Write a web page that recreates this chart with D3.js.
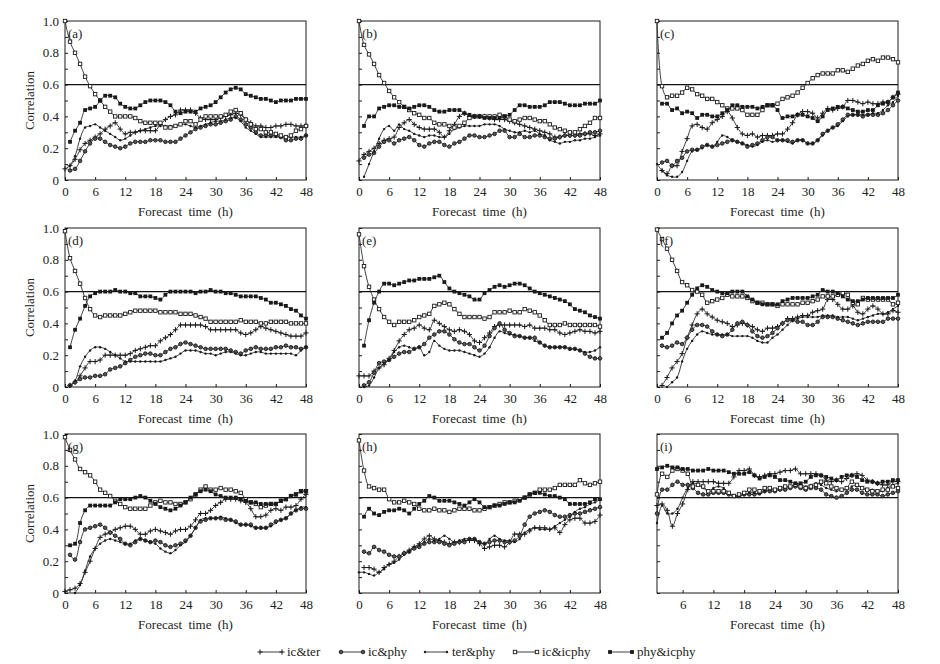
<!DOCTYPE html>
<html>
<head>
<meta charset="utf-8">
<script src="https://cdn.jsdelivr.net/npm/d3@7"></script>
<style>
  body { margin: 0; background: #fff; }
  text { font-family: "Liberation Serif", "DejaVu Serif", serif; fill: #222; }
</style>
</head>
<body>
<div id="chart"></div>
<script>
// ---- data: correlation per forecast hour (index = hour 0..48, null = no value)
const seriesNames = ["ic&ter", "ic&phy", "ter&phy", "ic&icphy", "phy&icphy"]
const panelLabels = ["(a)", "(b)", "(c)", "(d)", "(e)", "(f)", "(g)", "(h)", "(i)"]
const xTicks = [0, 6, 12, 18, 24, 30, 36, 42, 48]
const yTickLabels = ["0", "0.2", "0.4", "0.6", "0.8", "1.0"]
const refLine = 0.6

// (a)
const icTer_a = [0.07,0.09,0.13,0.19,0.23,0.25,0.27,0.29,0.32,0.34, 0.36,0.32,0.29,0.30,0.30,0.31,0.31,0.31,0.31,0.35, 0.38,0.40,0.41,0.44,0.44,0.44,0.42,0.39,0.38,0.38, 0.38,0.39,0.40,0.41,0.42,0.41,0.38,0.36,0.34,0.34, 0.33,0.33,0.34,0.34,0.35,0.35,0.34,0.34,0.34]
const icPhy_a = [null,0.06,0.07,0.12,0.18,0.23,0.26,0.26,0.24,0.22, 0.21,0.20,0.21,0.23,0.24,0.24,0.24,0.25,0.25,0.25, 0.24,0.24,0.24,0.26,0.28,0.30,0.32,0.33,0.34,0.35, 0.35,0.36,0.37,0.38,0.40,0.38,0.35,0.33,0.30,0.28, 0.28,0.28,0.28,0.27,0.25,0.25,0.26,0.26,0.28]
const terPhy_a = [null,0.09,0.15,0.26,0.33,0.34,0.35,0.33,0.31,0.29, 0.27,0.25,0.26,0.28,0.30,0.31,0.32,0.33,0.34,0.34, 0.34,0.34,0.34,0.35,0.35,0.34,0.33,0.34,0.35,0.36, 0.37,0.37,0.38,0.39,0.39,0.37,0.33,0.31,0.29,0.27, 0.27,0.27,0.27,0.27,0.27,0.27,0.27,0.27,0.28]
const icIcphy_a = [1.00,0.87,0.80,0.73,0.65,0.59,0.54,0.50,0.46,0.43, 0.40,0.40,0.40,0.40,0.39,0.37,0.36,0.36,0.36,0.36, 0.33,0.33,0.34,0.35,0.37,0.37,0.35,0.38,0.40,0.40, 0.40,0.40,0.41,0.43,0.44,0.42,0.38,0.35,0.32,0.32, 0.30,0.30,0.29,0.28,0.27,0.28,0.31,0.32,0.34]
const phyIcphy_a = [null,0.24,0.31,0.36,0.44,0.45,0.46,0.50,0.53,0.53, 0.52,0.48,0.46,0.45,0.45,0.47,0.49,0.50,0.50,0.50, 0.49,0.47,0.43,0.42,0.43,0.43,0.43,0.45,0.46,0.47, 0.49,0.52,0.55,0.57,0.58,0.57,0.54,0.53,0.52,0.51, 0.51,0.50,0.49,0.50,0.50,0.50,0.51,0.51,0.51]

// (b)
const icTer_b = [0.12,0.16,0.18,0.20,0.23,0.25,0.26,0.27,0.33,0.36, 0.38,0.35,0.33,0.32,0.32,0.32,0.30,0.27,0.31,0.35, 0.40,0.42,0.40,0.40,0.40,0.40,0.39,0.38,0.38,0.38, 0.37,0.36,0.35,0.34,0.33,0.32,0.31,0.30,0.29,0.27, 0.27,0.28,0.28,0.28,0.29,0.29,0.29,0.28,0.29]
const icPhy_b = [null,0.14,0.16,0.17,0.21,0.24,0.25,0.23,0.25,0.26, 0.27,0.25,0.22,0.21,0.23,0.24,0.24,0.22,0.21,0.23, 0.24,0.26,0.28,0.28,0.27,0.27,0.28,0.29,0.31,0.31, 0.27,0.27,0.29,0.27,0.27,0.28,0.28,0.27,0.26,0.26, 0.27,0.28,0.28,0.28,0.28,0.29,0.30,0.30,0.31]
const terPhy_b = [null,0.02,0.10,0.18,0.26,0.32,0.34,0.31,0.35,0.32, 0.31,0.29,0.28,0.27,0.28,0.28,0.27,0.27,0.29,0.32, 0.33,0.34,0.34,0.34,0.34,0.35,0.35,0.35,0.34,0.32, 0.31,0.30,0.30,0.31,0.30,0.31,0.29,0.28,0.25,0.24, 0.23,0.24,0.24,0.25,0.25,0.26,0.26,0.27,0.28]
const icIcphy_b = [1.00,0.85,0.79,0.73,0.66,0.61,0.56,0.52,0.49,0.46, 0.44,0.42,0.41,0.39,0.39,0.36,0.35,0.35,0.34,0.33, 0.34,0.36,0.39,0.40,0.40,0.40,0.40,0.40,0.41,0.40, 0.38,0.37,0.38,0.39,0.39,0.38,0.37,0.37,0.35,0.33, 0.32,0.31,0.30,0.30,0.32,0.34,0.36,0.39,0.39]
const phyIcphy_b = [null,0.34,0.40,0.40,0.45,0.46,0.47,0.47,0.46,0.46, 0.45,0.46,0.47,0.47,0.46,0.44,0.43,0.43,0.44,0.44, 0.44,0.42,0.41,0.40,0.40,0.39,0.39,0.39,0.39,0.40, 0.41,0.44,0.47,0.47,0.46,0.46,0.46,0.47,0.49,0.49, 0.49,0.48,0.47,0.47,0.47,0.48,0.48,0.48,0.50]

// (c)
const icTer_c = [null,0.06,0.04,0.09,0.09,0.18,0.26,0.34,0.35,0.33, 0.32,0.36,0.38,0.40,0.43,0.39,0.33,0.29,0.28,0.29, 0.27,0.28,0.28,0.28,0.29,0.29,0.32,0.36,0.41,0.43, 0.43,0.42,0.39,0.42,0.45,0.44,0.45,0.46,0.50,0.50, 0.49,0.48,0.49,0.48,0.48,0.49,0.49,0.52,0.54]
const icPhy_c = [null,0.11,0.12,0.09,0.12,0.14,0.18,0.19,0.19,0.21, 0.22,0.21,0.22,0.23,0.24,0.25,0.24,0.23,0.21,0.22, 0.23,0.25,0.27,0.27,0.25,0.25,0.25,0.24,0.25,0.25, 0.23,0.23,0.25,0.29,0.31,0.33,0.35,0.38,0.41,0.41, 0.41,0.40,0.41,0.41,0.41,0.42,0.44,0.47,0.50]
const terPhy_c = [0.10,0.06,0.03,0.02,0.02,0.05,0.12,0.18,0.19,0.20, 0.22,0.21,0.24,0.28,0.27,0.25,0.24,0.23,0.22,0.21, 0.22,0.24,0.25,0.24,0.25,0.25,0.24,0.23,0.25,0.25, 0.23,0.23,0.25,0.28,0.31,0.33,0.34,0.37,0.40,0.41, 0.41,0.41,0.41,0.42,0.42,0.44,0.47,0.49,0.53]
const icIcphy_c = [1.00,0.59,0.52,0.53,0.53,0.55,0.58,0.57,0.54,0.53, 0.51,0.51,0.49,0.47,0.45,0.45,0.45,0.44,0.41,0.41, 0.41,0.44,0.47,0.47,0.48,0.51,0.52,0.53,0.55,0.58, 0.61,0.64,0.66,0.67,0.67,0.67,0.69,0.69,0.68,0.70, 0.72,0.73,0.75,0.76,0.75,0.77,0.77,0.76,0.74]
const phyIcphy_c = [null,0.48,0.48,0.44,0.45,0.42,0.43,0.42,0.39,0.41, 0.41,0.40,0.40,0.42,0.44,0.47,0.47,0.46,0.46,0.46, 0.45,0.46,0.47,0.47,0.44,0.39,0.40,0.40,0.41,0.41, 0.40,0.39,0.37,0.40,0.44,0.45,0.46,0.46,0.45,0.44, 0.43,0.43,0.44,0.44,0.47,0.48,0.49,0.52,0.55]

// (d)
const icTer_d = [null,0.01,0.03,0.07,0.12,0.16,0.16,0.17,0.20,0.20, 0.20,0.20,0.20,0.21,0.23,0.24,0.25,0.26,0.26,0.29, 0.31,0.33,0.36,0.39,0.39,0.39,0.39,0.39,0.38,0.36, 0.36,0.36,0.36,0.36,0.36,0.34,0.33,0.34,0.36,0.38, 0.37,0.36,0.35,0.34,0.33,0.32,0.32,0.32,0.34]
const icPhy_d = [null,0.01,0.03,0.05,0.06,0.06,0.07,0.07,0.08,0.11, 0.12,0.13,0.15,0.17,0.19,0.20,0.21,0.21,0.20,0.20, 0.22,0.24,0.25,0.27,0.28,0.27,0.26,0.25,0.24,0.24, 0.24,0.24,0.24,0.23,0.22,0.21,0.23,0.24,0.25,0.24, 0.24,0.24,0.25,0.25,0.26,0.25,0.25,0.24,0.25]
const terPhy_d = [null,0.01,0.04,0.13,0.19,0.23,0.25,0.25,0.24,0.22, 0.20,0.18,0.16,0.16,0.16,0.16,0.16,0.16,0.16,0.16, 0.17,0.18,0.19,0.21,0.23,0.23,0.23,0.22,0.21,0.21, 0.20,0.21,0.22,0.22,0.21,0.20,0.20,0.21,0.22,0.22, 0.21,0.21,0.21,0.21,0.21,0.21,0.20,0.23,0.25]
const icIcphy_d = [0.98,0.81,0.73,0.65,0.56,0.49,0.45,0.44,0.45,0.45, 0.45,0.45,0.46,0.47,0.48,0.48,0.48,0.48,0.48,0.47, 0.47,0.47,0.47,0.46,0.46,0.46,0.45,0.44,0.43,0.41, 0.41,0.41,0.41,0.41,0.41,0.42,0.41,0.41,0.41,0.40, 0.40,0.41,0.41,0.41,0.41,0.40,0.40,0.40,0.40]
const phyIcphy_d = [null,0.25,0.36,0.43,0.51,0.57,0.59,0.60,0.60,0.60, 0.61,0.60,0.60,0.59,0.59,0.57,0.57,0.57,0.56,0.55, 0.58,0.60,0.60,0.60,0.60,0.60,0.59,0.60,0.60,0.61, 0.60,0.60,0.59,0.59,0.58,0.57,0.57,0.57,0.57,0.56, 0.55,0.53,0.53,0.52,0.51,0.49,0.48,0.45,0.43]

// (e)
const icTer_e = [0.07,0.07,0.07,0.10,0.12,0.14,0.18,0.23,0.29,0.33, 0.36,0.37,0.39,0.37,0.36,0.42,0.40,0.38,0.36,0.35, 0.36,0.35,0.33,0.29,0.28,0.31,0.34,0.38,0.39,0.39, 0.39,0.39,0.39,0.38,0.39,0.37,0.37,0.37,0.36,0.36, 0.34,0.33,0.34,0.35,0.36,0.35,0.35,0.34,0.35]
const icPhy_e = [null,0.01,0.03,0.09,0.15,0.16,0.17,0.19,0.21,0.22, 0.22,0.24,0.25,0.27,0.31,0.33,0.35,0.35,0.33,0.30, 0.28,0.27,0.27,0.25,0.23,0.26,0.32,0.37,0.40,0.36, 0.34,0.32,0.32,0.31,0.31,0.31,0.28,0.26,0.25,0.25, 0.25,0.25,0.24,0.24,0.23,0.21,0.19,0.18,0.18]
const terPhy_e = [null,0.00,0.01,0.06,0.12,0.15,0.17,0.22,0.25,0.26, 0.25,0.24,0.25,0.20,0.22,0.29,0.26,0.24,0.23,0.23, 0.23,0.22,0.21,0.20,0.19,0.21,0.25,0.31,0.35,0.34, 0.33,0.33,0.32,0.31,0.31,0.29,0.28,0.26,0.25,0.25, 0.25,0.25,0.24,0.24,0.23,0.22,0.22,0.23,0.25]
const icIcphy_e = [0.96,0.76,0.63,0.55,0.49,0.44,0.41,0.39,0.41,0.41, 0.41,0.42,0.44,0.45,0.46,0.51,0.52,0.53,0.52,0.49, 0.46,0.44,0.44,0.44,0.44,0.43,0.44,0.47,0.47,0.47, 0.48,0.47,0.47,0.49,0.48,0.47,0.45,0.42,0.39,0.39, 0.39,0.40,0.39,0.39,0.39,0.39,0.39,0.39,0.38]
const phyIcphy_e = [null,0.26,0.42,0.53,0.60,0.65,0.65,0.64,0.65,0.66, 0.67,0.67,0.68,0.68,0.68,0.69,0.70,0.66,0.62,0.60, 0.59,0.58,0.57,0.55,0.55,0.59,0.61,0.63,0.64,0.63, 0.64,0.65,0.65,0.64,0.62,0.60,0.59,0.58,0.57,0.56, 0.55,0.54,0.52,0.49,0.48,0.47,0.45,0.44,0.43]

// (f)
const icTer_f = [null,0.01,0.06,0.12,0.16,0.21,0.31,0.39,0.46,0.49, 0.46,0.44,0.42,0.41,0.40,0.38,0.39,0.40,0.39,0.38, 0.36,0.35,0.37,0.37,0.38,0.40,0.43,0.43,0.44,0.45, 0.45,0.47,0.48,0.49,0.55,0.55,0.52,0.49,0.49,0.51, 0.47,0.46,0.49,0.51,0.49,0.46,0.46,0.48,0.47]
const icPhy_f = [null,0.26,0.25,0.26,0.28,0.27,0.31,0.36,0.39,0.39, 0.38,0.35,0.33,0.32,0.33,0.36,0.40,0.41,0.39,0.35, 0.32,0.31,0.32,0.34,0.37,0.40,0.42,0.42,0.41,0.41, 0.39,0.39,0.41,0.44,0.44,0.44,0.43,0.42,0.41,0.40, 0.39,0.40,0.41,0.41,0.41,0.41,0.43,0.43,0.43]
const terPhy_f = [null,null,0.00,0.03,0.06,0.16,0.24,0.29,0.33,0.35, 0.34,0.33,0.33,0.33,0.33,0.32,0.32,0.32,0.32,0.31, 0.29,0.28,0.28,0.31,0.33,0.36,0.39,0.42,0.43,0.44, 0.44,0.44,0.44,0.45,0.45,0.45,0.44,0.44,0.44,0.43, 0.42,0.43,0.44,0.45,0.46,0.46,0.47,0.49,0.51]
const icIcphy_f = [0.99,0.93,0.87,0.80,0.73,0.66,0.64,0.61,0.60,0.58, 0.53,0.54,0.55,0.56,0.58,0.57,0.57,0.57,0.56,0.54, 0.53,0.53,0.52,0.52,0.51,0.52,0.52,0.52,0.52,0.53, 0.53,0.54,0.55,0.57,0.57,0.57,0.58,0.59,0.58,0.53, 0.52,0.56,0.55,0.55,0.55,0.55,0.55,0.52,0.53]
const phyIcphy_f = [null,0.31,0.34,0.40,0.45,0.48,0.53,0.58,0.62,0.64, 0.63,0.61,0.60,0.59,0.59,0.60,0.60,0.60,0.57,0.55, 0.53,0.52,0.52,0.52,0.52,0.54,0.55,0.56,0.56,0.56, 0.56,0.57,0.58,0.61,0.60,0.60,0.59,0.57,0.55,0.54, 0.54,0.55,0.56,0.56,0.56,0.56,0.56,0.56,0.58]

// (g)
const icTer_g = [0.01,0.02,0.03,0.06,0.13,0.20,0.28,0.35,0.37,0.38, 0.40,0.41,0.42,0.42,0.40,0.37,0.37,0.39,0.40,0.39, 0.38,0.37,0.39,0.40,0.40,0.42,0.46,0.50,0.50,0.52, 0.55,0.57,0.59,0.59,0.59,0.58,0.57,0.53,0.48,0.48, 0.49,0.52,0.53,0.52,0.54,0.54,0.55,0.59,0.62]
const icPhy_g = [null,0.24,0.21,0.32,0.40,0.41,0.42,0.43,0.41,0.38, 0.36,0.34,0.31,0.30,0.32,0.34,0.33,0.32,0.33,0.32, 0.30,0.29,0.30,0.31,0.33,0.36,0.41,0.45,0.46,0.47, 0.47,0.47,0.46,0.46,0.45,0.43,0.43,0.43,0.41,0.41, 0.41,0.43,0.45,0.46,0.47,0.50,0.52,0.53,0.53]
const terPhy_g = [null,null,0.00,0.05,0.14,0.23,0.28,0.31,0.33,0.34, 0.33,0.32,0.31,0.31,0.33,0.34,0.33,0.32,0.31,0.28, 0.26,0.25,0.27,0.30,0.32,0.36,0.41,0.46,0.47,0.47, 0.47,0.48,0.47,0.46,0.44,0.43,0.43,0.42,0.41,0.41, 0.41,0.42,0.44,0.46,0.47,0.50,0.52,0.54,0.54]
const icIcphy_g = [0.98,0.90,0.84,0.78,0.76,0.74,0.70,0.65,0.63,0.61, 0.58,0.56,0.54,0.53,0.53,0.53,0.53,0.55,0.57,0.58, 0.57,0.57,0.56,0.56,0.57,0.59,0.62,0.65,0.67,0.65, 0.65,0.66,0.65,0.65,0.64,0.63,0.59,0.57,0.56,0.54, 0.55,0.56,0.56,0.58,0.59,0.61,0.62,0.64,0.64]
const phyIcphy_g = [null,0.30,0.31,0.44,0.52,0.55,0.55,0.55,0.55,0.55, 0.57,0.59,0.59,0.59,0.60,0.61,0.60,0.58,0.56,0.54, 0.53,0.52,0.53,0.55,0.57,0.60,0.62,0.64,0.65,0.64, 0.62,0.61,0.60,0.60,0.60,0.59,0.58,0.57,0.57,0.56, 0.56,0.56,0.56,0.58,0.59,0.61,0.62,0.64,0.64]

// (h)
const icTer_h = [null,0.16,0.16,0.15,0.13,0.16,0.18,0.20,0.23,0.25, 0.27,0.29,0.31,0.34,0.36,0.34,0.33,0.32,0.31,0.32, 0.32,0.33,0.33,0.33,0.31,0.28,0.29,0.30,0.30,0.29, 0.32,0.37,0.37,0.37,0.39,0.41,0.41,0.41,0.40,0.41, 0.38,0.43,0.46,0.47,0.47,0.44,0.44,0.45,0.49]
const icPhy_h = [null,0.26,0.25,0.29,0.27,0.26,0.24,0.23,0.23,0.25, 0.26,0.28,0.29,0.31,0.32,0.32,0.32,0.31,0.30,0.31, 0.32,0.32,0.34,0.34,0.32,0.31,0.32,0.33,0.33,0.32, 0.32,0.33,0.36,0.43,0.48,0.50,0.51,0.52,0.51,0.49, 0.48,0.48,0.49,0.50,0.50,0.51,0.52,0.53,0.54]
const terPhy_h = [0.13,0.13,0.12,0.11,0.13,0.15,0.18,0.19,0.21,0.24, 0.26,0.29,0.30,0.32,0.34,0.33,0.34,0.36,0.34,0.32, 0.33,0.34,0.34,0.34,0.32,0.31,0.34,0.36,0.34,0.33, 0.33,0.32,0.34,0.38,0.40,0.41,0.40,0.40,0.40,0.42, 0.44,0.46,0.48,0.51,0.53,0.54,0.56,0.57,0.59]
const icIcphy_h = [0.96,0.77,0.67,0.66,0.65,0.65,0.59,0.57,0.57,0.58, 0.57,0.56,0.53,0.52,0.52,0.53,0.52,0.52,0.51,0.52, 0.53,0.53,0.53,0.52,0.52,0.53,0.54,0.55,0.56,0.57, 0.57,0.58,0.59,0.60,0.62,0.63,0.65,0.65,0.65,0.66, 0.68,0.68,0.68,0.68,0.71,0.69,0.68,0.69,0.70]
const phyIcphy_h = [null,0.48,0.53,0.50,0.49,0.51,0.52,0.52,0.53,0.52, 0.50,0.53,0.56,0.58,0.61,0.60,0.58,0.58,0.58,0.57, 0.56,0.55,0.57,0.59,0.57,0.54,0.54,0.55,0.55,0.56, 0.57,0.57,0.58,0.60,0.62,0.63,0.63,0.62,0.61,0.61, 0.60,0.59,0.56,0.56,0.56,0.56,0.57,0.59,0.59]

// (i) starts at hour 1
const icTer_i = [null,0.55,0.56,0.52,0.42,0.50,0.56,0.65,0.70,0.70, 0.70,0.70,0.70,0.69,0.69,0.69,0.73,0.77,0.77,0.78, 0.74,0.73,0.74,0.75,0.75,0.76,0.77,0.77,0.78,0.75, 0.75,0.75,0.75,0.74,0.71,0.70,0.71,0.70,0.72,0.74, 0.75,0.74,0.71,0.70,0.69,0.68,0.68,0.70,0.70]
const icPhy_i = [null,0.50,0.65,0.65,0.68,0.70,0.68,0.68,0.66,0.63, 0.62,0.62,0.63,0.63,0.63,0.62,0.61,0.61,0.62,0.62, 0.62,0.63,0.64,0.64,0.64,0.65,0.65,0.66,0.67,0.66, 0.65,0.66,0.66,0.65,0.62,0.61,0.60,0.61,0.63,0.65, 0.65,0.63,0.62,0.62,0.62,0.61,0.62,0.63,0.64]
const terPhy_i = [null,0.44,0.55,0.50,0.50,0.53,0.60,0.66,0.69,0.68, 0.66,0.64,0.66,0.67,0.66,0.63,0.61,0.61,0.62,0.63, 0.63,0.62,0.64,0.65,0.65,0.66,0.66,0.67,0.68,0.68, 0.67,0.68,0.69,0.68,0.66,0.65,0.64,0.65,0.65,0.67, 0.68,0.66,0.65,0.65,0.64,0.64,0.66,0.68,0.69]
const icIcphy_i = [null,0.62,0.75,0.73,0.77,0.78,0.77,0.75,0.67,0.68, 0.67,0.64,0.64,0.64,0.64,0.63,0.61,0.62,0.63,0.65, 0.65,0.64,0.66,0.66,0.65,0.66,0.67,0.67,0.68,0.67, 0.66,0.67,0.68,0.70,0.69,0.67,0.66,0.65,0.66,0.70, 0.68,0.66,0.65,0.64,0.64,0.65,0.65,0.67,0.66]
const phyIcphy_i = [null,0.78,0.79,0.80,0.79,0.79,0.78,0.78,0.77,0.77, 0.77,0.78,0.77,0.77,0.77,0.76,0.75,0.75,0.75,0.76, 0.74,0.72,0.73,0.74,0.73,0.71,0.71,0.70,0.69,0.69, 0.70,0.73,0.74,0.74,0.73,0.72,0.71,0.73,0.74,0.74, 0.73,0.71,0.70,0.70,0.69,0.70,0.70,0.71,0.71]

const panelSeries = [
  [icTer_a, icPhy_a, terPhy_a, icIcphy_a, phyIcphy_a],
  [icTer_b, icPhy_b, terPhy_b, icIcphy_b, phyIcphy_b],
  [icTer_c, icPhy_c, terPhy_c, icIcphy_c, phyIcphy_c],
  [icTer_d, icPhy_d, terPhy_d, icIcphy_d, phyIcphy_d],
  [icTer_e, icPhy_e, terPhy_e, icIcphy_e, phyIcphy_e],
  [icTer_f, icPhy_f, terPhy_f, icIcphy_f, phyIcphy_f],
  [icTer_g, icPhy_g, terPhy_g, icIcphy_g, phyIcphy_g],
  [icTer_h, icPhy_h, terPhy_h, icIcphy_h, phyIcphy_h],
  [icTer_i, icPhy_i, terPhy_i, icIcphy_i, phyIcphy_i]
]

// ---- layout
const W = 940, H = 664
const colLeft = [65, 359, 657]
const rowTop = [21, 228, 434]
const pw = 241, ph = 159
const ink = "#1a1a1a"

const svg = d3.select("#chart").append("svg")
  .attr("width", W).attr("height", H)

// markers by series index
const drawMarker = (g, type, x, y) => {
  if (type === 0) {
    g.append("path").attr("d", `M${x-2.6},${y}H${x+2.6}M${x},${y-2.6}V${y+2.6}`)
      .attr("stroke", ink).attr("stroke-width", 1)
  } else if (type === 1) {
    g.append("circle").attr("cx", x).attr("cy", y).attr("r", 1.8)
      .attr("fill", "#555").attr("stroke", ink).attr("stroke-width", 0.9)
  } else if (type === 2) {
    g.append("circle").attr("cx", x).attr("cy", y).attr("r", 1.2).attr("fill", ink)
  } else if (type === 3) {
    g.append("rect").attr("x", x-1.7).attr("y", y-1.7).attr("width", 3.4).attr("height", 3.4)
      .attr("fill", "#fff").attr("stroke", ink).attr("stroke-width", 0.9)
  } else {
    g.append("rect").attr("x", x-1.9).attr("y", y-1.9).attr("width", 3.8).attr("height", 3.8)
      .attr("fill", ink)
  }
}

panelSeries.forEach((series, p) => {
  const col = p % 3, row = Math.floor(p / 3)
  const left = colLeft[col], top = rowTop[row]
  const lastPanel = p === 8

  const x = d3.scaleLinear().domain([lastPanel ? 1 : 0, 48]).range([left, left + pw])
  const y = d3.scaleLinear().domain([0, 1]).range([top + ph, top])

  const g = svg.append("g")

  // x axis
  g.append("g")
    .attr("transform", `translate(0,${top + ph})`)
    .call(d3.axisBottom(x)
      .tickValues(lastPanel ? xTicks.slice(1) : xTicks)
      .tickSizeInner(-3).tickSizeOuter(0).tickPadding(7)
      .tickFormat(d3.format("d")))
    .call(a => a.select(".domain").remove())
    .call(a => a.selectAll("line").attr("stroke", ink))
    .call(a => a.selectAll("text").attr("font-size", 13).attr("font-family", "Liberation Serif"))

  // y axis (ticks each 0.1, labels only on first column)
  g.append("g")
    .attr("transform", `translate(${left},0)`)
    .call(d3.axisLeft(y)
      .tickValues(d3.range(0, 11).map(i => i / 10))
      .tickSizeInner(-3).tickSizeOuter(0).tickPadding(6)
      .tickFormat((d, i) => (col === 0 && i % 2 === 0) ? yTickLabels[i / 2] : ""))
    .call(a => a.select(".domain").remove())
    .call(a => a.selectAll("line").attr("stroke", ink))
    .call(a => a.selectAll("text").attr("font-size", 13).attr("font-family", "Liberation Serif"))

  // frame
  g.append("rect")
    .attr("x", left).attr("y", top).attr("width", pw).attr("height", ph)
    .attr("fill", "none").attr("stroke", ink).attr("stroke-width", 1)

  // reference line
  g.append("line")
    .attr("x1", left).attr("x2", left + pw)
    .attr("y1", y(refLine)).attr("y2", y(refLine))
    .attr("stroke", "#111").attr("stroke-width", 1.1)

  const line = d3.line()
    .defined(d => d.v !== null)
    .x(d => x(d.h)).y(d => y(d.v))
    .curve(d3.curveCatmullRom.alpha(0.5))

  series.forEach((vals, s) => {
    const pts = vals.map((v, h) => ({ h, v }))
    g.append("path").datum(pts)
      .attr("d", line)
      .attr("fill", "none").attr("stroke", "#2a2a2a").attr("stroke-width", 0.9)
    const mg = g.append("g")
    pts.filter(d => d.v !== null).forEach(d => drawMarker(mg, s, x(d.h), y(d.v)))
  })

  // panel label
  g.append("text")
    .attr("x", left + 3).attr("y", top + 17)
    .attr("font-size", 13)
    .text(panelLabels[p])

  // x title
  g.append("text")
    .attr("x", left + pw / 2).attr("y", top + ph + 36)
    .attr("text-anchor", "middle").attr("font-size", 13)
    .attr("word-spacing", 3)
    .text("Forecast time (h)")

  // y title
  if (col === 0) {
    g.append("text")
      .attr("transform", `translate(34,${top + ph / 2}) rotate(-90)`)
      .attr("text-anchor", "middle").attr("font-size", 13)
      .text("Correlation")
  }
})

// legend
const legendX = [260, 341, 425, 515, 610]
const legendY = 652
const legend = svg.append("g")
seriesNames.forEach((name, s) => {
  const lx = legendX[s]
  legend.append("line")
    .attr("x1", lx).attr("x2", lx + 22).attr("y1", legendY).attr("y2", legendY)
    .attr("stroke", "#2a2a2a").attr("stroke-width", 0.9)
  drawMarker(legend, s, lx, legendY)
  drawMarker(legend, s, lx + 22, legendY)
  legend.append("text")
    .attr("x", lx + 27).attr("y", legendY + 4)
    .attr("font-size", 13)
    .text(name)
})
</script>
</body>
</html>
